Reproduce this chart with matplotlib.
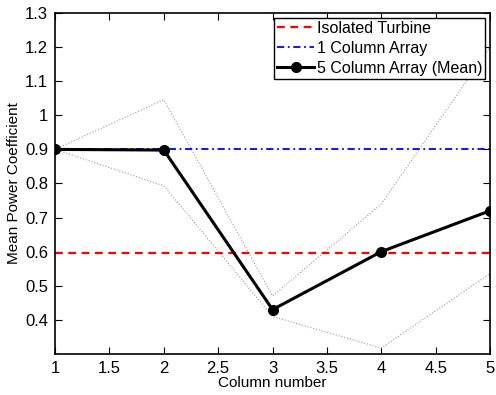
import numpy as np
import matplotlib
matplotlib.use("Agg")
import matplotlib.pyplot as plt

plt.rcParams['font.family'] = ['Liberation Sans', 'DejaVu Sans']

columns = [1, 2, 3, 4, 5]
isolated = 0.597
one_column = 0.90
mean_cp = [0.90, 0.898, 0.43, 0.60, 0.72]
upper_cp = [0.90, 1.046, 0.47, 0.74, 1.20]
lower_cp = [0.90, 0.793, 0.41, 0.317, 0.536]

fig = plt.figure(figsize=(4.96, 3.95), dpi=100)
ax = fig.add_axes([0.111, 0.104, 0.877, 0.863])

ax.plot(columns, upper_cp, ':', color='#999999', lw=0.8)
ax.plot(columns, lower_cp, ':', color='#999999', lw=0.8)
ax.axhline(isolated, color='red', ls=(0, (3.5, 2.5)), lw=1.6, label='Isolated Turbine')
ax.axhline(one_column, color='blue', ls=(0, (4, 2, 1, 2)), lw=1.3, label='1 Column Array')
ax.plot(columns, mean_cp, '-o', color='black', lw=2.2, ms=7, label='5 Column Array (Mean)')

ax.set_xlim(1, 5)
ax.set_ylim(0.3, 1.3)
ax.set_xticks(np.arange(1, 5.01, 0.5))
ax.set_xticklabels(['1', '1.5', '2', '2.5', '3', '3.5', '4', '4.5', '5'])
ax.set_yticks(np.arange(0.4, 1.31, 0.1))
ax.set_yticklabels(['0.4', '0.5', '0.6', '0.7', '0.8', '0.9', '1', '1.1', '1.2', '1.3'])
ax.tick_params(direction='in', top=True, right=True, length=5, width=0.8, labelsize=12, pad=5)
for s in ax.spines.values():
    s.set_linewidth(1.2)

ax.set_xlabel('Column number', fontsize=11, labelpad=0)
ax.set_ylabel('Mean Power Coefficient', fontsize=11, labelpad=3)

leg = ax.legend(loc='upper right', fontsize=11.5, fancybox=False, framealpha=1,
                edgecolor='black', handlelength=2.3, borderpad=0.2,
                labelspacing=0.3, handletextpad=0.15, borderaxespad=0.3)
leg.get_frame().set_linewidth(1.0)

fig.savefig('out.png', dpi=100)
